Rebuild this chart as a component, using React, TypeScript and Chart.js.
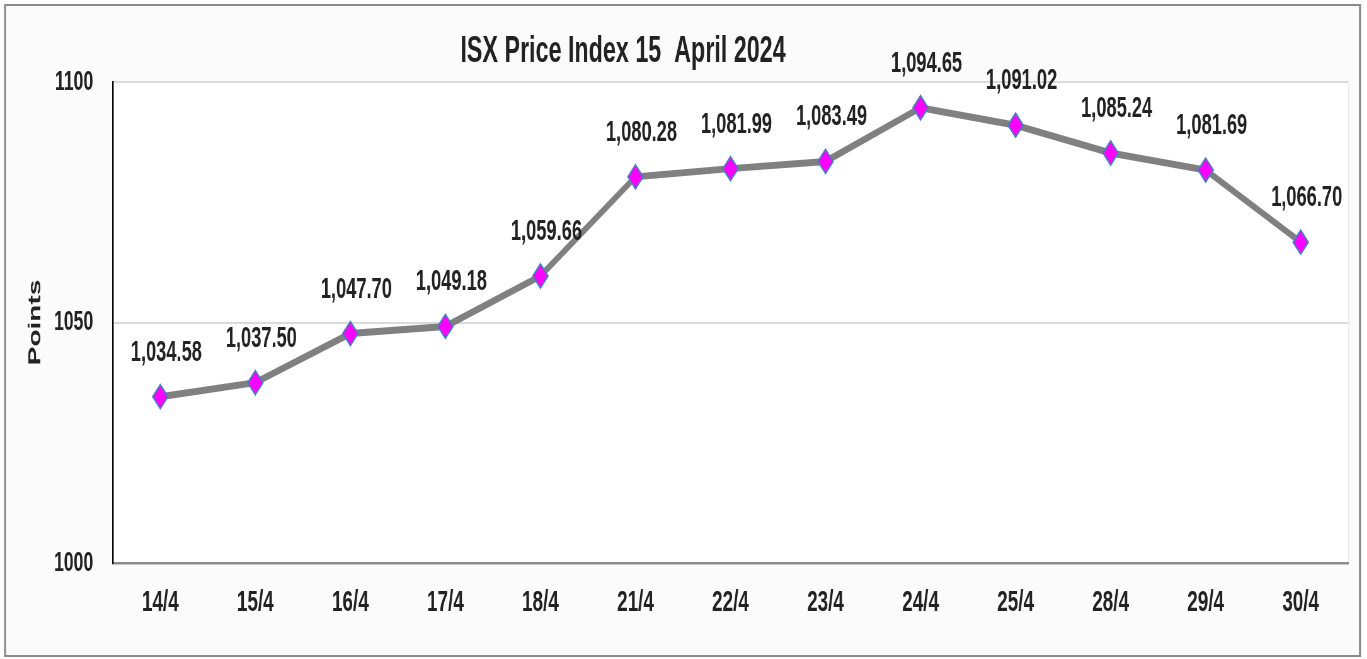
import React, { useEffect, useRef } from "react";
import { Chart, registerables } from "chart.js";

Chart.register(...registerables);

const categories = ["14/4", "15/4", "16/4", "17/4", "18/4", "21/4", "22/4", "23/4", "24/4", "25/4", "28/4", "29/4", "30/4"];
const indexValues = [1034.58, 1037.5, 1047.7, 1049.18, 1059.66, 1080.28, 1081.99, 1083.49, 1094.65, 1091.02, 1085.24, 1081.69, 1066.7];
const yTicks = [1000, 1050, 1100];
const chartTitle = "ISX Price Index 15  April 2024";
const yTitle = "Points";

// The reference is a horizontally condensed picture; draw wide, then squeeze.
const SQUEEZE = 0.63;
const VIEW_W = 1367;
const VIEW_H = 659;
const W = Math.round(VIEW_W / SQUEEZE);
const H = VIEW_H;
const X = (v: number) => v / SQUEEZE;

const FONT = "'Liberation Sans', Arial, sans-serif";
const TEXT = "#222222";

const fmt = (v: number) =>
  v.toLocaleString("en-US", { minimumFractionDigits: 2, maximumFractionDigits: 2 });

export default function App() {
  const ref = useRef<HTMLCanvasElement>(null);
  useEffect(() => {
    if (!ref.current) return;
    const framePlugin = {
      id: "frame",
      beforeDraw(chart: any) {
        const { ctx, chartArea } = chart;
        ctx.save();
        ctx.fillStyle = "#ffffff";
        ctx.fillRect(0, 0, chart.width, chart.height);
        const bx = X(5), bw = X(1355);
        ctx.fillStyle = "#fbfbfb";
        ctx.fillRect(bx, 5, bw, 651);
        ctx.fillStyle = "#ffffff";
        ctx.fillRect(chartArea.left, chartArea.top, chartArea.right - chartArea.left, chartArea.bottom - chartArea.top);
        ctx.strokeStyle = "#8a8a8a";
        ctx.lineWidth = 2;
        ctx.beginPath();
        ctx.moveTo(bx, 5);
        ctx.lineTo(bx + bw, 5);
        ctx.moveTo(bx, 656);
        ctx.lineTo(bx + bw, 656);
        ctx.stroke();
        ctx.lineWidth = 3.2;
        ctx.beginPath();
        ctx.moveTo(bx, 4);
        ctx.lineTo(bx, 657);
        ctx.moveTo(bx + bw, 4);
        ctx.lineTo(bx + bw, 657);
        ctx.stroke();
        ctx.strokeStyle = "#ebebeb";
        ctx.lineWidth = 2;
        ctx.beginPath();
        ctx.moveTo(chartArea.right + 1, chartArea.top);
        ctx.lineTo(chartArea.right + 1, chartArea.bottom);
        ctx.stroke();
        ctx.restore();
      },
      afterDraw(chart: any) {
        const { ctx } = chart;
        ctx.save();
        ctx.fillStyle = TEXT;
        ctx.font = `bold 37px ${FONT}`;
        ctx.textAlign = "center";
        ctx.textBaseline = "middle";
        ctx.fillText(chartTitle, X(623), 52);
        ctx.restore();
      },
    };
    const labelPlugin = {
      id: "valueLabels",
      afterDatasetsDraw(chart: any) {
        const { ctx } = chart;
        const meta = chart.getDatasetMeta(0);
        ctx.save();
        ctx.fillStyle = TEXT;
        ctx.font = `bold 29px ${FONT}`;
        ctx.textAlign = "center";
        ctx.textBaseline = "middle";
        meta.data.forEach((pt: any, i: number) => {
          ctx.fillText(fmt(indexValues[i]), pt.x + X(6), pt.y - 44);
        });
        ctx.restore();
      },
    };
    const chart = new Chart(ref.current, {
      type: "line",
      data: {
        labels: categories,
        datasets: [
          {
            data: indexValues,
            borderColor: "#808080",
            borderWidth: 7,
            pointStyle: "rectRot",
            pointRadius: 12,
            pointBackgroundColor: "#ff00ff",
            pointBorderColor: "#4a7ebb",
            pointBorderWidth: 2,
            tension: 0,
          },
        ],
      },
      options: {
        responsive: false,
        animation: false,
        devicePixelRatio: 1,
        layout: { padding: { top: 82, right: W - Math.round(X(1348)), left: 0, bottom: 0 } },
        plugins: { legend: { display: false }, tooltip: { enabled: false }, title: { display: false } },
        scales: {
          x: {
            offset: true,
            grid: { display: true, color: "rgba(0,0,0,0)", drawTicks: false },
            border: { display: true, color: "#8c8c8c", width: 2.5 },
            ticks: { color: TEXT, font: { family: FONT, size: 30, weight: "bold" }, padding: 22, maxRotation: 0 },
            afterFit(scale: any) {
              scale.height = 96;
            },
          },
          y: {
            min: 1000,
            max: 1100,
            afterBuildTicks(scale: any) {
              scale.ticks = yTicks.map((v) => ({ value: v }));
            },
            grid: {
              drawTicks: false,
              lineWidth: 2,
              color: (ctx: any) => (ctx.tick && ctx.tick.value === 1000 ? "rgba(0,0,0,0)" : "#dadada"),
            },
            border: { display: true, color: "#000000", width: 2.4 },
            ticks: {
              color: TEXT,
              font: { family: FONT, size: 28, weight: "bold" },
              padding: 31,
              callback: (v: any) => String(v),
            },
            title: {
              display: true,
              text: yTitle,
              color: TEXT,
              font: { family: FONT, size: 28, weight: "bold" },
              padding: { top: 39, bottom: 0 },
            },
            afterFit(scale: any) {
              scale.width = Math.round(X(113));
            },
          },
        },
      },
      plugins: [framePlugin, labelPlugin],
    });
    return () => chart.destroy();
  }, []);
  return (
    <div style={{ position: "fixed", left: 0, top: 0, width: VIEW_W, height: VIEW_H, overflow: "hidden" }}>
      <div style={{ width: W, height: H, transform: `scaleX(${SQUEEZE})`, transformOrigin: "0 0" }}>
        <canvas ref={ref} width={W} height={H} style={{ display: "block", width: W, height: H }} />
      </div>
    </div>
  );
}
